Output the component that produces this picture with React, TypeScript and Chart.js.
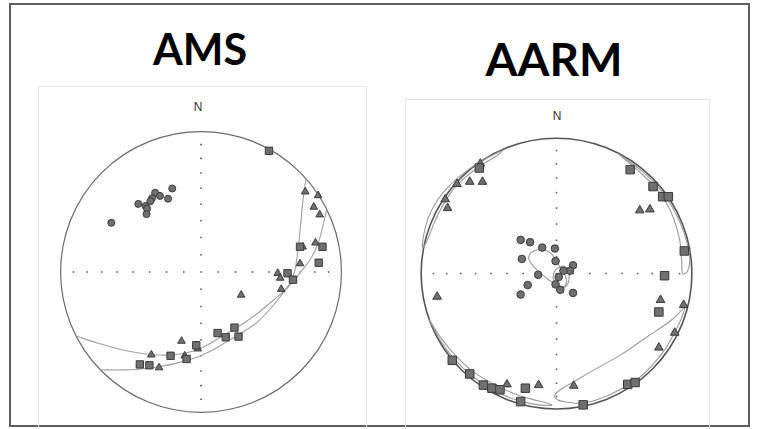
import React, { useEffect, useRef } from "react";
import { Chart, registerables } from "chart.js";

Chart.register(...registerables);

// Equal-area radius of the 10° plunge ticks along the N–S / E–W cross
const TICK_RADII = [0.123, 0.246, 0.366, 0.484, 0.598, 0.707, 0.811, 0.909];

// ---------- AMS (x = east, y = north, radius of net = 1) ----------
const AMS_K3_CIRCLES: number[][] = [
  [-0.205, 0.596], [-0.235, 0.523], [-0.327, 0.566], [-0.292, 0.543],
  [-0.349, 0.527], [-0.361, 0.505], [-0.447, 0.486], [-0.395, 0.471],
  [-0.384, 0.452], [-0.388, 0.413], [-0.639, 0.351],
];
const AMS_K2_TRIANGLES: number[][] = [
  [0.742, 0.573], [0.834, 0.546], [0.803, 0.464], [0.845, 0.409],
  [0.724, 0.180], [0.815, 0.208], [0.705, 0.060], [0.546, -0.009],
  [0.564, -0.043], [0.571, -0.123], [0.286, -0.164], [-0.139, -0.493],
  [-0.023, -0.548], [-0.354, -0.591], [-0.116, -0.598], [-0.299, -0.683],
];
const AMS_K1_SQUARES: number[][] = [
  [0.484, 0.865], [0.705, 0.180], [0.865, 0.180], [0.838, 0.066],
  [0.616, -0.009], [0.655, -0.055], [0.118, -0.436], [0.176, -0.466],
  [0.238, -0.397], [0.267, -0.461], [-0.034, -0.523], [-0.217, -0.598],
  [-0.103, -0.621], [-0.436, -0.660], [-0.368, -0.666],
];
const AMS_CURVE_A: number[][] = [
  [0.747, 0.664], [0.728, 0.527], [0.714, 0.390], [0.701, 0.253],
  [0.685, 0.116], [0.666, 0.002], [0.632, -0.082], [0.575, -0.151],
  [0.493, -0.219], [0.404, -0.295], [0.290, -0.375], [0.176, -0.443],
  [0.062, -0.512], [-0.053, -0.564], [-0.190, -0.591], [-0.327, -0.591],
  [-0.464, -0.575], [-0.601, -0.546], [-0.738, -0.507], [-0.887, -0.459],
];
const AMS_CURVE_B: number[][] = [
  [0.895, 0.447], [0.861, 0.299], [0.827, 0.185], [0.781, 0.094],
  [0.712, 0.002], [0.655, -0.068], [0.596, -0.137], [0.507, -0.247],
  [0.404, -0.356], [0.313, -0.420], [0.199, -0.488], [0.084, -0.557],
  [-0.029, -0.608], [-0.166, -0.649], [-0.303, -0.676], [-0.440, -0.694],
  [-0.577, -0.699], [-0.716, -0.698],
];

// ---------- AARM ----------
const AARM_K3_CIRCLES: number[][] = [
  [-0.265, 0.249], [-0.195, 0.232], [-0.106, 0.192], [-0.012, 0.185],
  [-0.256, 0.108], [-0.007, 0.092], [-0.136, -0.009], [0.122, 0.061],
  [0.099, 0.021], [0.051, 0.021], [0.016, -0.026], [-0.007, -0.080],
  [-0.213, -0.085], [0.028, -0.120], [0.122, -0.143], [-0.265, -0.155],
];
const AARM_K2_TRIANGLES: number[][] = [
  [-0.563, 0.812], [-0.641, 0.678], [-0.547, 0.678], [-0.735, 0.662],
  [-0.822, 0.549], [-0.805, 0.484], [-0.882, -0.171], [0.615, 0.467],
  [0.690, 0.474], [0.768, -0.195], [0.939, -0.232], [0.873, -0.437],
  [0.756, -0.547], [-0.366, -0.819], [-0.132, -0.824], [0.127, -0.829],
];
const AARM_K1_SQUARES: number[][] = [
  [0.544, 0.768], [0.713, 0.643], [0.784, 0.568], [0.826, 0.568],
  [0.944, 0.167], [0.798, -0.016], [0.756, -0.284], [-0.570, 0.780],
  [-0.770, -0.641], [-0.641, -0.742], [-0.540, -0.824], [-0.477, -0.847],
  [-0.418, -0.859], [-0.230, -0.847], [-0.265, -0.946], [0.197, -0.970],
  [0.526, -0.819], [0.580, -0.805],
];
const AARM_K3_ELLIPSE: number[][] = [
  [-0.195, 0.150], [-0.148, 0.174], [-0.089, 0.174], [-0.042, 0.150],
  [-0.007, 0.104], [0.028, 0.044], [0.063, -0.014], [0.075, -0.061],
  [0.051, -0.096], [0.005, -0.085], [-0.054, -0.049], [-0.125, 0.009],
  [-0.183, 0.068], [-0.206, 0.115], [-0.195, 0.150],
];
const AARM_K3_SMALL_ELLIPSE: number[][] = [
  [0.0, 0.035], [0.049, 0.056], [0.085, 0.021], [0.092, -0.049],
  [0.063, -0.099], [0.014, -0.099], [-0.021, -0.056], [-0.021, 0.0],
  [0.0, 0.035],
];
const AARM_NW_ELLIPSE: number[][] = [
  [-0.394, 0.913], [-0.558, 0.831], [-0.723, 0.713], [-0.840, 0.596],
  [-0.923, 0.467], [-0.970, 0.338], [-0.993, 0.197], [-0.981, 0.197],
  [-0.946, 0.268], [-0.899, 0.385], [-0.840, 0.502], [-0.746, 0.643],
  [-0.582, 0.784], [-0.430, 0.878], [-0.394, 0.913],
];
const AARM_NE_ELLIPSE: number[][] = [
  [0.451, 0.889], [0.615, 0.749], [0.756, 0.608], [0.850, 0.444],
  [0.908, 0.256], [0.925, 0.092], [0.932, -0.002], [0.967, 0.016],
  [0.985, 0.100], [0.963, 0.230], [0.920, 0.360], [0.850, 0.500],
  [0.760, 0.630], [0.640, 0.750], [0.500, 0.855], [0.451, 0.889],
];
const AARM_SW_ELLIPSE: number[][] = [
  [-0.940, -0.342], [-0.857, -0.495], [-0.755, -0.633], [-0.630, -0.751],
  [-0.490, -0.849], [-0.335, -0.921], [-0.171, -0.965], [-0.034, -0.974],
  [-0.067, -0.958], [-0.197, -0.924], [-0.321, -0.884], [-0.470, -0.814],
  [-0.611, -0.728], [-0.735, -0.617], [-0.844, -0.488], [-0.940, -0.342],
];
const AARM_SE_ELLIPSE: number[][] = [
  [0.956, -0.237], [0.850, -0.343], [0.662, -0.472], [0.474, -0.601],
  [0.287, -0.706], [0.146, -0.789], [0.028, -0.859], [-0.014, -0.906],
  [0.016, -0.937], [0.099, -0.953], [0.192, -0.960], [0.380, -0.901],
  [0.613, -0.768], [0.789, -0.577], [0.901, -0.380], [0.956, -0.237],
];

const toXY = (arr: number[][]) => arr.map(([x, y]) => ({ x, y }));

const primitivePlugin = {
  id: "primitive",
  beforeDatasetsDraw(chart: any, _args: any, opts: any) {
    const { ctx, scales } = chart;
    const cx = scales.x.getPixelForValue(0);
    const cy = scales.y.getPixelForValue(0);
    const r = scales.x.getPixelForValue(1) - cx;
    ctx.save();
    ctx.beginPath();
    ctx.arc(cx, cy, r, 0, Math.PI * 2);
    ctx.strokeStyle = opts.color;
    ctx.lineWidth = opts.width;
    ctx.stroke();
    ctx.restore();
  },
};

type NetProps = {
  left: number;
  top: number;
  width: number;
  height: number;
  xMin: number;
  xMax: number;
  yMin: number;
  yMax: number;
  circles: number[][];
  triangles: number[][];
  squares: number[][];
  curves: number[][][];
  circleR: number;
  triR: number;
  squareR: number;
  primitiveWidth: number;
  primitiveColor: string;
  curveColor: string;
};

function StereoNet(p: NetProps) {
  const ref = useRef<HTMLCanvasElement | null>(null);
  useEffect(() => {
    if (!ref.current) return;
    const ticks: { x: number; y: number }[] = [{ x: 0, y: 0 }];
    TICK_RADII.forEach((r) => {
      ticks.push({ x: r, y: 0 }, { x: -r, y: 0 }, { x: 0, y: r }, { x: 0, y: -r });
    });
    const fill = "#707070";
    const edge = "#3a3a3a";
    const datasets: any[] = [
      {
        data: toXY(p.squares),
        pointStyle: "rect",
        pointRadius: p.squareR,
        backgroundColor: fill,
        borderColor: edge,
        borderWidth: 1,
        order: 0,
      },
      {
        data: toXY(p.triangles),
        pointStyle: "triangle",
        pointRadius: p.triR,
        backgroundColor: fill,
        borderColor: edge,
        borderWidth: 1,
        order: 0,
      },
      {
        data: toXY(p.circles),
        pointStyle: "circle",
        pointRadius: p.circleR,
        backgroundColor: fill,
        borderColor: edge,
        borderWidth: 1,
        order: 0,
      },
      ...p.curves.map((c) => ({
        data: toXY(c),
        showLine: true,
        pointRadius: 0,
        borderColor: p.curveColor,
        borderWidth: 1.1,
        tension: 0.35,
        fill: false,
        order: 1,
      })),
      {
        data: ticks,
        pointStyle: "rect",
        pointRadius: 1.1,
        backgroundColor: "#555",
        borderWidth: 0,
        order: 2,
      },
    ];
    const chart = new Chart(ref.current, {
      type: "scatter",
      data: { datasets },
      options: {
        animation: false,
        responsive: false,
        maintainAspectRatio: false,
        layout: { padding: 0 },
        events: [],
        scales: {
          x: { type: "linear", min: p.xMin, max: p.xMax, display: false },
          y: { type: "linear", min: p.yMin, max: p.yMax, display: false },
        },
        plugins: {
          legend: { display: false },
          tooltip: { enabled: false },
          primitive: { color: p.primitiveColor, width: p.primitiveWidth },
        } as any,
      },
      plugins: [primitivePlugin],
    });
    return () => chart.destroy();
  }, []);
  return (
    <canvas
      ref={ref}
      width={p.width}
      height={p.height}
      style={{ position: "absolute", left: p.left, top: p.top, width: p.width, height: p.height }}
    />
  );
}

export default function App() {
  // AMS net: centre (201,272), radius 146 px
  const aL = 40, aT = 118, aW = 324, aH = 307;
  const aCx = 201, aCy = 272, aR = 146;
  // AARM net: centre (556.5,273.5), radius 142 px
  const bL = 407, bT = 126, bW = 300, bH = 298;
  const bCx = 556.5, bCy = 273.5, bR = 142;
  return (
    <div style={{ position: "absolute", left: 0, top: 0, width: 757, height: 429, overflow: "hidden", background: "#fff" }}>
      <div style={{ position: "absolute", left: 9, top: 3, width: 737, height: 420, border: "2px solid #5e5e5e" }} />
      <div style={{ position: "absolute", left: 38, top: 86, width: 327, height: 345, border: "1px solid #e6e6e6" }} />
      <div style={{ position: "absolute", left: 405, top: 99, width: 303, height: 335, border: "1px solid #e6e6e6" }} />
      <div style={{ position: "absolute", left: 100, width: 200, top: 28, fontFamily: "Lato, 'Open Sans', sans-serif", fontWeight: 700, fontSize: 43, lineHeight: "42px", textAlign: "center", color: "#000" }}>AMS</div>
      <div style={{ position: "absolute", left: 454, width: 200, top: 36, fontFamily: "Lato, 'Open Sans', sans-serif", fontWeight: 700, fontSize: 46, lineHeight: "46px", textAlign: "center", color: "#000" }}>AARM</div>
      <div style={{ position: "absolute", left: 178, width: 40, top: 101, fontFamily: "'Liberation Sans', Arial, sans-serif", fontSize: 12, lineHeight: "12px", textAlign: "center", color: "#333" }}>N</div>
      <div style={{ position: "absolute", left: 537, width: 40, top: 110, fontFamily: "'Liberation Sans', Arial, sans-serif", fontSize: 12, lineHeight: "12px", textAlign: "center", color: "#333" }}>N</div>
      <StereoNet
        left={aL} top={aT} width={aW} height={aH}
        xMin={(aL - aCx) / aR} xMax={(aL + aW - aCx) / aR}
        yMin={(aCy - (aT + aH)) / aR} yMax={(aCy - aT) / aR}
        circles={AMS_K3_CIRCLES} triangles={AMS_K2_TRIANGLES} squares={AMS_K1_SQUARES}
        curves={[AMS_CURVE_A, AMS_CURVE_B]}
        circleR={3.5} triR={4.4} squareR={5.2}
        primitiveWidth={1.2} primitiveColor="#6a6a6a" curveColor="#a0a0a0"
      />
      <StereoNet
        left={bL} top={bT} width={bW} height={bH}
        xMin={(bL - bCx) / bR} xMax={(bL + bW - bCx) / bR}
        yMin={(bCy - (bT + bH)) / bR} yMax={(bCy - bT) / bR}
        circles={AARM_K3_CIRCLES} triangles={AARM_K2_TRIANGLES} squares={AARM_K1_SQUARES}
        curves={[AARM_K3_ELLIPSE, AARM_K3_SMALL_ELLIPSE, AARM_NW_ELLIPSE, AARM_NE_ELLIPSE, AARM_SW_ELLIPSE, AARM_SE_ELLIPSE]}
        circleR={3.8} triR={5} squareR={6}
        primitiveWidth={1.6} primitiveColor="#555555" curveColor="#9a9a9a"
      />
    </div>
  );
}
